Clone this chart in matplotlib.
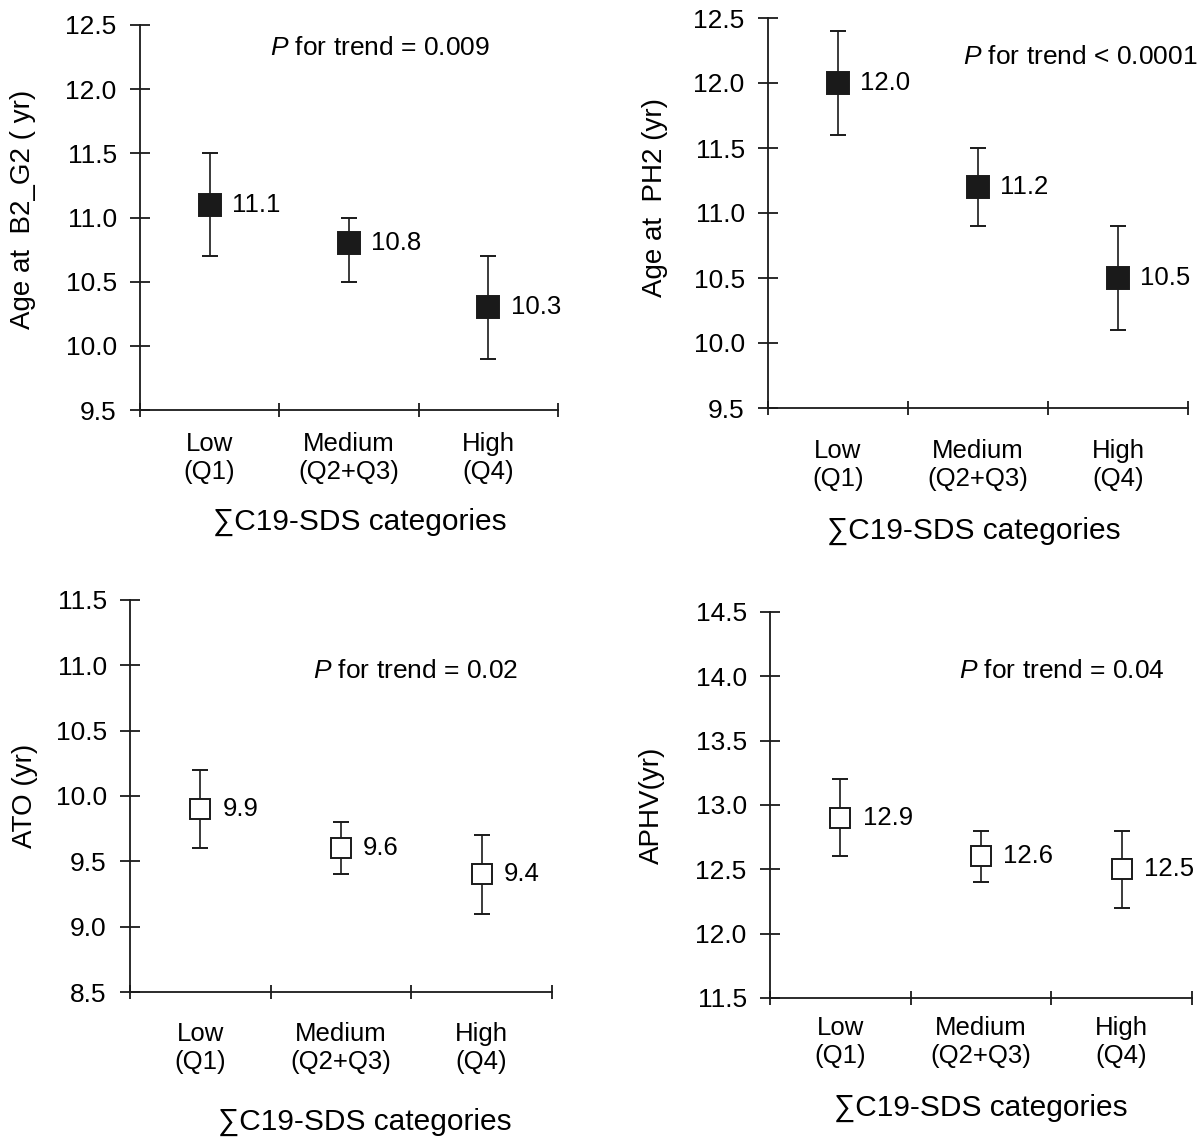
import matplotlib
matplotlib.use("Agg")
import matplotlib.pyplot as plt

plt.rcParams['font.family'] = ['Liberation Sans', 'DejaVu Sans']
plt.rcParams['mathtext.fontset'] = 'custom'
plt.rcParams['mathtext.it'] = 'Liberation Sans:italic'
plt.rcParams['mathtext.rm'] = 'Liberation Sans'

# Shared category labels
categories = ["Low\n(Q1)", "Medium\n(Q2+Q3)", "High\n(Q4)"]
x_label = "\u2211C19-SDS categories"

# Panel data: means, lower and upper CI
b2_mean = [11.1, 10.8, 10.3]
b2_low = [10.7, 10.5, 9.9]
b2_high = [11.5, 11.0, 10.7]

ph2_mean = [12.0, 11.2, 10.5]
ph2_low = [11.6, 10.9, 10.1]
ph2_high = [12.4, 11.5, 10.9]

ato_mean = [9.9, 9.6, 9.4]
ato_low = [9.6, 9.4, 9.1]
ato_high = [10.2, 9.8, 9.7]

aphv_mean = [12.9, 12.6, 12.5]
aphv_low = [12.6, 12.4, 12.2]
aphv_high = [13.2, 12.8, 12.8]

TICK_FS = 19
CAT_FS = 18.5
VAL_FS = 18.5
YLAB_FS = 20
XLAB_FS = 21.5
P_FS = 19
INK = '#1a1a1a'

fig = plt.figure(figsize=(12, 11.4), dpi=100)


def px_axes(left, top, right, bottom):
    # convert pixel box into figure fraction
    W, H = 1200, 1140
    return fig.add_axes([left / W, 1 - bottom / H, (right - left) / W, (bottom - top) / H])


def draw_panel(ax, mean, low, high, ylim, ylabel, ptext, ppos, filled,
               ylab_pos, cat_y, xlab_pos):
    xs = [0.5, 1.5, 2.5]
    yerr = [[m - l for m, l in zip(mean, low)], [h - m for m, h in zip(mean, high)]]
    if filled:
        ms, mfc = 15.5, INK
    else:
        ms, mfc = 14, 'white'
    ax.errorbar(xs, mean, yerr=yerr, fmt='s', color=INK, ms=ms, mfc=mfc,
                mec=INK, mew=1.4, elinewidth=1.2, capsize=6, capthick=1.2,
                zorder=3)
    for x, m in zip(xs, mean):
        ax.annotate(f"{m:.1f}", (x, m), xytext=(16, 0), textcoords='offset points',
                    va='center', ha='left', fontsize=VAL_FS)
    ax.set_xlim(0, 3)
    ax.set_ylim(*ylim)
    ticks = [ylim[0] + 0.5 * i for i in range(int(round((ylim[1] - ylim[0]) / 0.5)) + 1)]
    ax.set_yticks(ticks)
    ax.set_yticklabels([f"{t:.1f}" for t in ticks], fontsize=TICK_FS)
    ax.set_xticks([0, 1, 2, 3])
    ax.set_xticklabels([])
    for x, c in zip(xs, categories):
        ax.text(x, cat_y, c, transform=ax.get_xaxis_transform(), ha='center',
                va='center', fontsize=CAT_FS, linespacing=1.25)
    ax.text(xlab_pos[0], xlab_pos[1], x_label, transform=ax.transAxes,
            ha='center', va='center', fontsize=XLAB_FS)
    ax.set_ylabel(ylabel, fontsize=YLAB_FS)
    ax.yaxis.set_label_coords(*ylab_pos)
    for s in ['top', 'right']:
        ax.spines[s].set_visible(False)
    for s in ['left', 'bottom']:
        ax.spines[s].set_linewidth(1.3)
        ax.spines[s].set_color(INK)
    ax.tick_params(axis='y', direction='inout', length=14.5, width=1.3, pad=9.5,
                   color=INK)
    ax.tick_params(axis='x', direction='inout', length=10.5, width=1.3,
                   color=INK)
    ax.text(ppos[0], ppos[1], r"$\it{P}$" + ptext, transform=ax.transAxes,
            ha='center', va='center', fontsize=P_FS)


ax1 = px_axes(140, 25, 558, 410)
draw_panel(ax1, b2_mean, b2_low, b2_high, (9.5, 12.5), "Age at  B2_G2 ( yr)",
           " for trend = 0.009", (0.574, 0.94), True, (-0.249, 0.52),
           -0.125, (0.526, -0.291))

ax2 = px_axes(768, 18, 1188, 408)
draw_panel(ax2, ph2_mean, ph2_low, ph2_high, (9.5, 12.5), "Age at  PH2 (yr)",
           " for trend < 0.0001", (0.743, 0.90), True, (-0.238, 0.54),
           -0.146, (0.49, -0.315))

ax3 = px_axes(130, 600, 552, 992)
draw_panel(ax3, ato_mean, ato_low, ato_high, (8.5, 11.5), "ATO (yr)",
           " for trend = 0.02", (0.678, 0.819), False, (-0.218, 0.5),
           -0.143, (0.557, -0.332))

ax4 = px_axes(770, 612, 1192, 998)
draw_panel(ax4, aphv_mean, aphv_low, aphv_high, (11.5, 14.5), "APHV(yr)",
           " for trend = 0.04", (0.692, 0.847), False, (-0.249, 0.5),
           -0.114, (0.5, -0.285))

fig.savefig("out.png", dpi=100, facecolor='white')
